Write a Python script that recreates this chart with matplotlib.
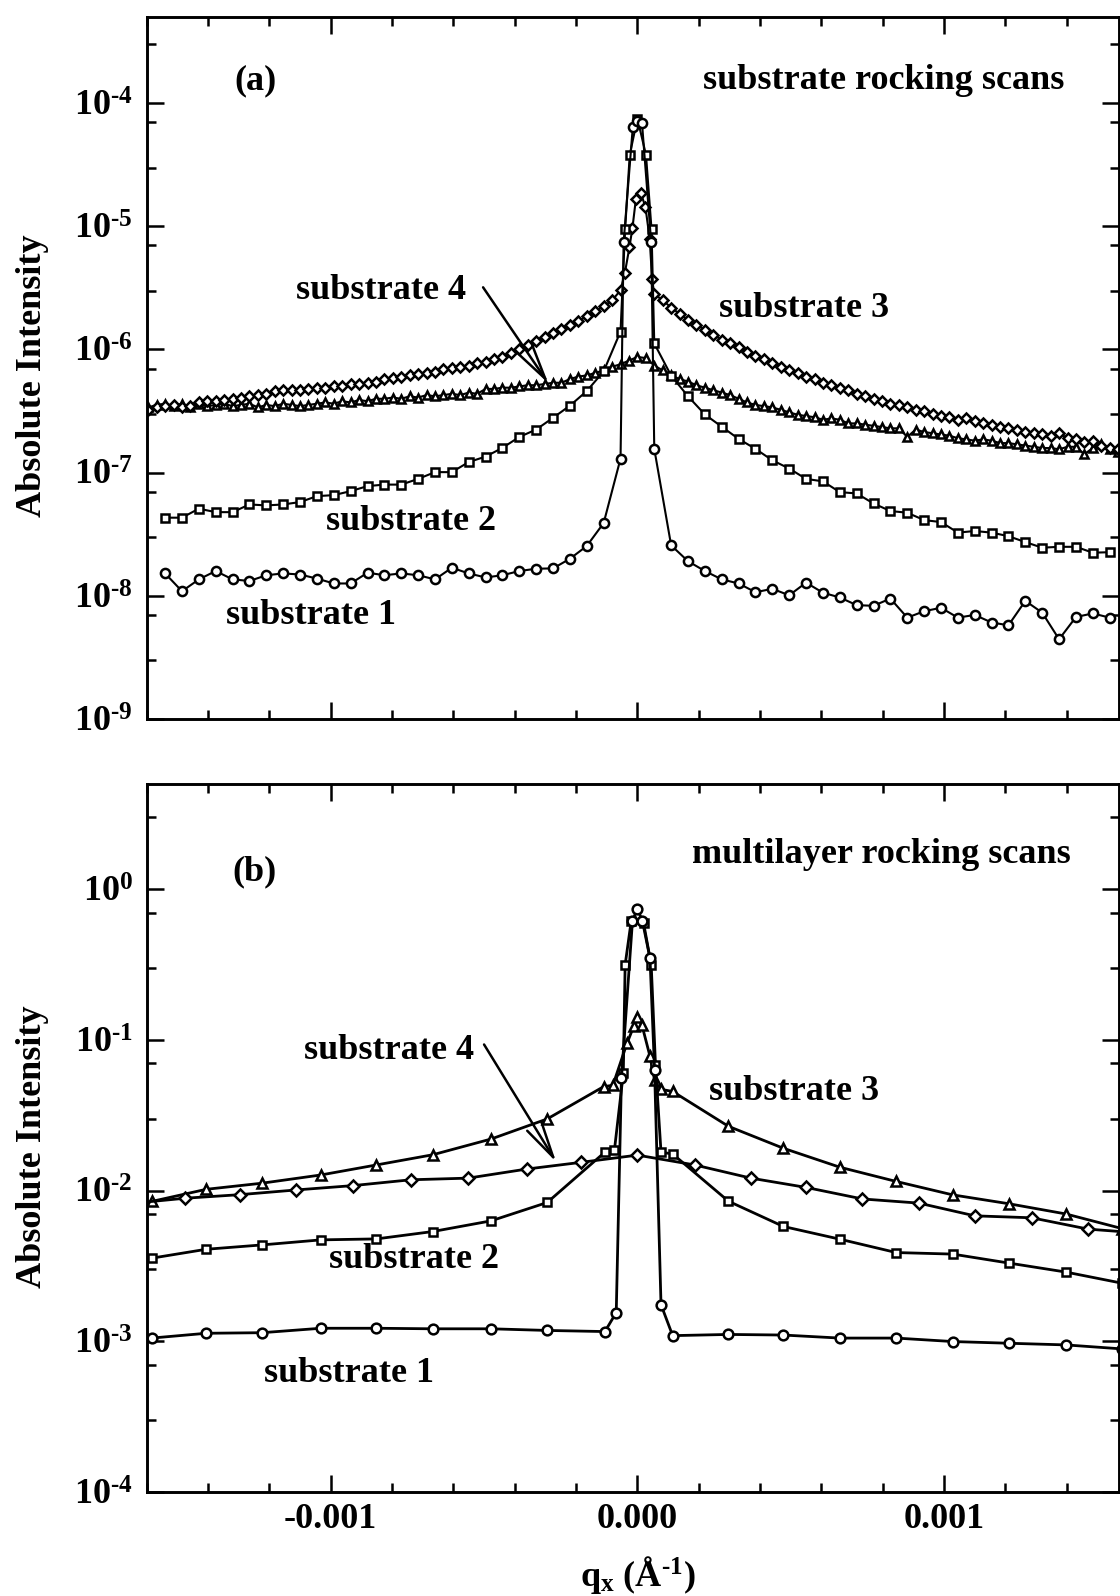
import numpy as np
import matplotlib
matplotlib.use("Agg")
import matplotlib.pyplot as plt
from matplotlib.ticker import LogLocator, MultipleLocator, FuncFormatter, NullFormatter

plt.rcParams['font.family'] = ['Liberation Serif', 'DejaVu Serif']
plt.rcParams['font.weight'] = 'bold'
plt.rcParams['mathtext.fontset'] = 'custom'
plt.rcParams['mathtext.rm'] = 'Liberation Serif:bold'
plt.rcParams['mathtext.it'] = 'Liberation Serif:bold'
plt.rcParams['mathtext.bf'] = 'Liberation Serif:bold'
plt.rcParams['axes.unicode_minus'] = False

# ---------------- panel (a): substrate rocking scans ----------------
# circles / squares are on a 5.5e-5 grid (k = -28..28), diamonds / triangles on 2.75e-5 (j = -58..57)
step_coarse = 5.5e-5
step_fine = 2.75e-5

circ_a_left = [1.52e-8, 1.09e-8, 1.36e-8, 1.59e-8, 1.36e-8, 1.32e-8, 1.47e-8, 1.52e-8, 1.49e-8, 1.38e-8,
               1.26e-8, 1.26e-8, 1.54e-8, 1.47e-8, 1.52e-8, 1.47e-8, 1.36e-8, 1.69e-8, 1.52e-8, 1.41e-8,
               1.47e-8, 1.59e-8, 1.66e-8, 1.67e-8, 2.0e-8, 2.54e-8, 3.9e-8, 1.3e-7]
circ_a_mid_qx = [-4.5e-5, -1.5e-5, 0.0, 1.5e-5, 4.5e-5]
circ_a_mid = [7.4e-6, 6.4e-5, 7.2e-5, 6.9e-5, 7.4e-6]
circ_a_right = [1.56e-7, 2.57e-8, 1.91e-8, 1.59e-8, 1.36e-8, 1.26e-8, 1.07e-8, 1.14e-8, 1.01e-8, 1.28e-8,
                1.06e-8, 9.7e-9, 8.4e-9, 8.3e-9, 9.5e-9, 6.65e-9, 7.5e-9, 8.0e-9, 6.65e-9, 7.0e-9,
                6.07e-9, 5.77e-9, 9.1e-9, 7.3e-9, 4.44e-9, 6.73e-9, 7.2e-9, 6.65e-9]

sq_a_left = [4.31e-8, 4.31e-8, 5.1e-8, 4.78e-8, 4.78e-8, 5.52e-8, 5.42e-8, 5.52e-8, 5.77e-8, 6.45e-8,
             6.57e-8, 7.08e-8, 7.78e-8, 8.0e-8, 8.0e-8, 8.9e-8, 1.01e-7, 1.01e-7, 1.22e-7, 1.35e-7,
             1.59e-7, 1.95e-7, 2.24e-7, 2.79e-7, 3.5e-7, 4.6e-7, 6.65e-7, 1.4e-6]
sq_a_mid_qx = [-4.0e-5, -2.5e-5, 0.0, 2.8e-5, 4.6e-5]
sq_a_mid = [9.5e-6, 3.8e-5, 7.5e-5, 3.8e-5, 9.5e-6]
sq_a_right = [1.12e-6, 6.14e-7, 4.17e-7, 2.97e-7, 2.36e-7, 1.88e-7, 1.56e-7, 1.26e-7, 1.08e-7, 8.9e-8,
              8.5e-8, 6.95e-8, 6.78e-8, 5.62e-8, 4.88e-8, 4.73e-8, 4.12e-8, 3.97e-8, 3.26e-8, 3.36e-8,
              3.26e-8, 3.05e-8, 2.73e-8, 2.46e-8, 2.5e-8, 2.5e-8, 2.24e-8, 2.26e-8]

# log10 values
dia_a_left = [-6.49, -6.47, -6.46, -6.45, -6.47, -6.46, -6.43, -6.42, -6.42, -6.41,
              -6.40, -6.39, -6.38, -6.37, -6.36, -6.34, -6.33, -6.33, -6.33, -6.32,
              -6.31, -6.31, -6.30, -6.30, -6.28, -6.28, -6.27, -6.26, -6.24, -6.23,
              -6.22, -6.21, -6.20, -6.19, -6.18, -6.16, -6.15, -6.14, -6.13, -6.11,
              -6.10, -6.08, -6.06, -6.03, -6.00, -5.96, -5.93, -5.90, -5.87, -5.83,
              -5.80, -5.77, -5.73, -5.69, -5.65, -5.60, -5.52]
dia_a_mid_qx = [-4.1e-5, -2.6e-5, -1.6e-5, -0.5e-5, 1.1e-5, 2.6e-5, 4.0e-5, 4.8e-5]
dia_a_mid = [-5.38, -5.17, -5.01, -4.78, -4.73, -4.84, -5.10, -5.43]
dia_a_right = [-5.55, -5.60, -5.66, -5.71, -5.76, -5.80, -5.84, -5.88, -5.92, -5.95,
               -5.98, -6.02, -6.05, -6.08, -6.11, -6.14, -6.17, -6.19, -6.22, -6.24,
               -6.27, -6.29, -6.31, -6.33, -6.36, -6.38, -6.40, -6.42, -6.44, -6.45,
               -6.47, -6.49, -6.50, -6.52, -6.54, -6.55, -6.57, -6.56, -6.58, -6.60,
               -6.61, -6.63, -6.64, -6.65, -6.67, -6.68, -6.69, -6.70, -6.68, -6.72,
               -6.73, -6.75, -6.74, -6.78, -6.80, -6.81]

tri_a = [-6.47, -6.45, -6.44, -6.46, -6.44, -6.47, -6.44, -6.46, -6.45, -6.44,
         -6.46, -6.45, -6.44, -6.47, -6.45, -6.46, -6.44, -6.45, -6.46, -6.45,
         -6.44, -6.43, -6.44, -6.42, -6.43, -6.41, -6.42, -6.40, -6.40, -6.39,
         -6.40, -6.38, -6.39, -6.37, -6.38, -6.37, -6.36, -6.37, -6.35, -6.36,
         -6.32, -6.32, -6.31, -6.31, -6.30, -6.29, -6.29, -6.28, -6.27, -6.27,
         -6.24, -6.22, -6.21, -6.19, -6.17, -6.14, -6.12,
         -6.09, -6.06, -6.07,
         -6.13, -6.17, -6.21, -6.24, -6.26, -6.29, -6.31, -6.33, -6.35, -6.37,
         -6.40, -6.43, -6.45, -6.46, -6.47, -6.49, -6.51, -6.53, -6.54, -6.55,
         -6.57, -6.56, -6.57, -6.60, -6.60, -6.61, -6.62, -6.63, -6.64, -6.64,
         -6.71, -6.65, -6.67, -6.68, -6.69, -6.70, -6.72, -6.73, -6.74, -6.73,
         -6.74, -6.76, -6.76, -6.77, -6.78, -6.79, -6.80, -6.80, -6.81, -6.79,
         -6.79, -6.85, -6.80, -6.77, -6.81, -6.83]

# ---------------- panel (b): multilayer rocking scans ----------------
qx_b_grid = [-1.584e-3, -1.406e-3, -1.224e-3, -1.032e-3, -0.851e-3, -0.667e-3, -0.477e-3, -0.294e-3]
qx_b_grid_r = [2.97e-4, 4.76e-4, 6.6e-4, 8.44e-4, 1.028e-3, 1.213e-3, 1.397e-3, 1.58e-3]

circ_b_qx = qx_b_grid + [-1.06e-4, -6.9e-5, -5.2e-5, -1.6e-5, 0.0, 1.6e-5, 4.1e-5, 5.6e-5, 7.7e-5, 1.15e-4] + qx_b_grid_r
circ_b = [1.05e-3, 1.13e-3, 1.14e-3, 1.22e-3, 1.22e-3, 1.21e-3, 1.21e-3, 1.18e-3,
          1.16e-3, 1.55e-3, 0.056, 0.62, 0.74, 0.62, 0.35, 0.063, 1.75e-3, 1.09e-3,
          1.11e-3, 1.10e-3, 1.05e-3, 1.05e-3, 9.96e-4, 9.7e-4, 9.46e-4, 8.9e-4]

sq_b_qx = qx_b_grid + [-1.06e-4, -7.5e-5, -4.6e-5, -4.0e-5, -2.0e-5, 2.0e-5, 4.5e-5, 5.9e-5, 7.7e-5, 1.15e-4] + qx_b_grid_r
sq_b = [3.56e-3, 4.08e-3, 4.36e-3, 4.71e-3, 4.78e-3, 5.35e-3, 6.3e-3, 8.34e-3,
        0.0180, 0.0185, 0.060, 0.315, 0.62, 0.60, 0.315, 0.068, 0.018, 0.0175,
        8.5e-3, 5.78e-3, 4.76e-3, 3.88e-3, 3.79e-3, 3.3e-3, 2.88e-3, 2.43e-3]

tri_b_qx = qx_b_grid + [-1.1e-4, -8.0e-5, -3.4e-5, -1.2e-5, 0.0, 1.5e-5, 4.1e-5, 5.6e-5, 7.7e-5, 1.15e-4] + qx_b_grid_r
tri_b = [8.47e-3, 0.0102, 0.0112, 0.0127, 0.0148, 0.0173, 0.022, 0.0299,
         0.049, 0.050, 0.095, 0.123, 0.142, 0.125, 0.078, 0.054, 0.047, 0.0455,
         0.0267, 0.0191, 0.0143, 0.0115, 9.37e-3, 8.17e-3, 7.0e-3, 5.6e-3]

dia_b_qx = [-1.655e-3, -1.475e-3, -1.296e-3, -1.113e-3, -0.926e-3, -0.739e-3, -0.552e-3, -0.361e-3, -0.184e-3,
            0.0, 1.87e-4, 3.7e-4, 5.5e-4, 7.34e-4, 9.18e-4, 1.1e-3, 1.286e-3, 1.47e-3, 1.655e-3]
dia_b = [8.2e-3, 8.9e-3, 9.4e-3, 0.0101, 0.0108, 0.0118, 0.0121, 0.0139, 0.0154,
         0.0172, 0.0148, 0.0121, 0.0105, 8.8e-3, 8.26e-3, 6.8e-3, 6.6e-3, 5.55e-3, 5.2e-3]


def join(left, left_start, step, mid_qx, mid, right, right_start):
    qx = list((np.arange(len(left)) + left_start) * step) + list(mid_qx) + \
         list((np.arange(len(right)) + right_start) * step)
    return np.array(qx), np.array(list(left) + list(mid) + list(right))


circ_a_qx, circ_a = join(circ_a_left, -28, step_coarse, circ_a_mid_qx, circ_a_mid, circ_a_right, 1)
sq_a_qx, sq_a = join(sq_a_left, -28, step_coarse, sq_a_mid_qx, sq_a_mid, sq_a_right, 1)
dia_a_qx, dia_a_log = join(dia_a_left, -58, step_fine, dia_a_mid_qx, dia_a_mid, dia_a_right, 2)
dia_a = 10 ** dia_a_log
tri_a_qx = (np.arange(len(tri_a)) - 58) * step_fine
tri_a_v = 10 ** np.array(tri_a)

fig = plt.figure(figsize=(11.2, 15.96), dpi=100)
ax_a = fig.add_axes([0.131, 0.5495, 0.868, 0.4398])
ax_b = fig.add_axes([0.131, 0.0652, 0.868, 0.4436])

FS = 26


def style(ax, ylim):
    ax.set_yscale('log')
    ax.set_xlim(-0.0016, 0.00157)
    ax.set_ylim(*ylim)
    ax.xaxis.set_major_locator(MultipleLocator(0.001))
    ax.xaxis.set_minor_locator(MultipleLocator(0.0002))
    ax.xaxis.set_major_formatter(FuncFormatter(lambda v, p: '%.3f' % v if abs(v) > 1e-9 else '0.000'))
    ax.yaxis.set_major_locator(LogLocator(base=10, numticks=20))
    ax.yaxis.set_minor_locator(LogLocator(base=10, subs=(3.0, 7.0), numticks=20))
    ax.yaxis.set_minor_formatter(NullFormatter())
    ax.yaxis.set_major_formatter(FuncFormatter(
        lambda v, p: r'$10^{\text{%s}}$' % str(int(round(np.log10(v))))))
    ax.tick_params(which='both', direction='in', top=True, right=True, width=1.8, labelsize=FS)
    ax.tick_params(which='major', length=12)
    ax.tick_params(which='minor', length=6.5)
    ax.tick_params(axis='y', pad=10)
    ax.tick_params(axis='x', pad=8)
    for s in ax.spines.values():
        s.set_linewidth(2.1)
    ax.set_ylabel('Absolute Intensity', fontsize=FS, fontweight='bold', va='center')


style(ax_a, (1e-9, 5e-4))
style(ax_b, (1e-4, 5))
ax_a.tick_params(labelbottom=False)

la = dict(color='black', lw=1.5, mfc='white', mec='black', mew=1.8)
ax_a.plot(tri_a_qx, tri_a_v, marker='^', ms=6.0, **la)
ax_a.plot(dia_a_qx, dia_a, marker='D', ms=4.8, **la)
ax_a.plot(sq_a_qx, sq_a, marker='s', ms=5.8, **la)
ax_a.plot(circ_a_qx, circ_a, marker='o', ms=6.6, **la)

lb = dict(color='black', lw=2.0, mfc='white', mec='black', mew=1.8)
ax_b.plot(tri_b_qx, tri_b, marker='^', ms=7.0, **lb)
ax_b.plot(dia_b_qx, dia_b, marker='D', ms=5.8, **lb)
ax_b.plot(sq_b_qx, sq_b, marker='s', ms=6.4, **lb)
ax_b.plot(circ_b_qx, circ_b, marker='o', ms=7.0, **lb)

ax_a.yaxis.set_label_coords(-0.118, 0.489)
ax_b.yaxis.set_label_coords(-0.118, 0.487)
ax_b.set_xlabel(r'$\mathregular{q_x}$ (Å$^{\text{-1}}$)', fontsize=FS, fontweight='bold', va='top')
ax_b.xaxis.set_label_coords(0.505, -0.088)

tk = dict(fontsize=FS, fontweight='bold', va='center')
ax_a.text(0.112, 0.909, '(a)', ha='center', transform=ax_a.transAxes, **tk)
ax_a.text(0.944, 0.909, 'substrate rocking scans', ha='right', transform=ax_a.transAxes, **tk)
ax_a.text(0.241, 0.611, 'substrate 4', ha='center', transform=ax_a.transAxes, **tk)
ax_a.text(0.676, 0.585, 'substrate 3', ha='center', transform=ax_a.transAxes, **tk)
ax_a.text(0.272, 0.282, 'substrate 2', ha='center', transform=ax_a.transAxes, **tk)
ax_a.text(0.169, 0.147, 'substrate 1', ha='center', transform=ax_a.transAxes, **tk)

ax_b.text(0.111, 0.876, '(b)', ha='center', transform=ax_b.transAxes, **tk)
ax_b.text(0.950, 0.900, 'multilayer rocking scans', ha='right', transform=ax_b.transAxes, **tk)
ax_b.text(0.249, 0.623, 'substrate 4', ha='center', transform=ax_b.transAxes, **tk)
ax_b.text(0.666, 0.566, 'substrate 3', ha='center', transform=ax_b.transAxes, **tk)
ax_b.text(0.275, 0.328, 'substrate 2', ha='center', transform=ax_b.transAxes, **tk)
ax_b.text(0.208, 0.167, 'substrate 1', ha='center', transform=ax_b.transAxes, **tk)

arrow = dict(arrowstyle='->,head_length=1.3,head_width=0.3', lw=1.8, color='black',
             shrinkA=0, shrinkB=0, mutation_scale=20)
ax_a.annotate('', xy=(-2.9e-4, 5.3e-7), xycoords='data', xytext=(0.346, 0.615),
              textcoords='axes fraction', arrowprops=arrow)
ax_b.annotate('', xy=(-2.65e-4, 0.0155), xycoords='data', xytext=(0.347, 0.632),
              textcoords='axes fraction', arrowprops=arrow)

fig.savefig('out.png', dpi=100)
